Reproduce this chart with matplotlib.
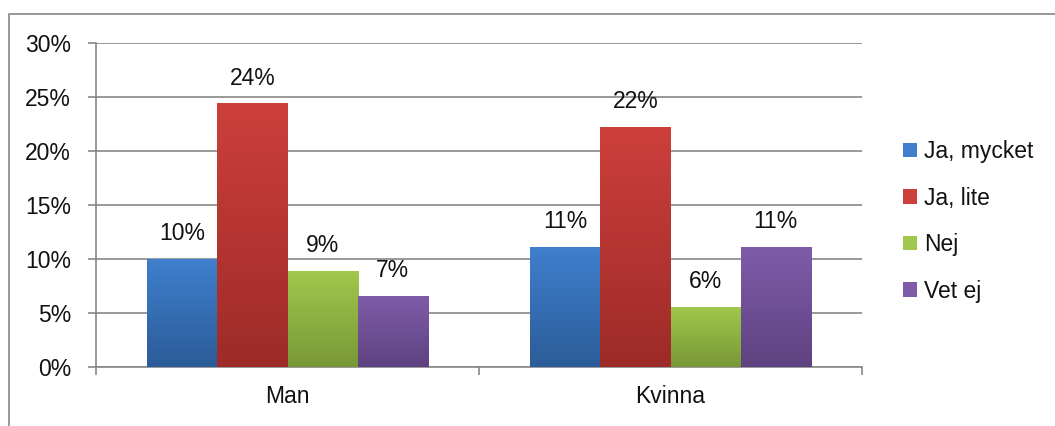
import numpy as np
import matplotlib
matplotlib.use("Agg")
import matplotlib.pyplot as plt
from matplotlib.colors import LinearSegmentedColormap
from matplotlib.patches import Patch, Rectangle

plt.rcParams['font.family'] = ['Liberation Sans', 'DejaVu Sans']

# survey answers, percent per group
groups = ['Man', 'Kvinna']
answers = ['Ja, mycket', 'Ja, lite', 'Nej', 'Vet ej']
man = [10.0, 24.4, 8.9, 6.6]
kvinna = [11.1, 22.2, 5.6, 11.1]

# (top colour, bottom colour) for each answer
shades = [('#3f7fcd', '#2c5c99'),
          ('#cd3f3b', '#9d2b28'),
          ('#a1c84c', '#789838'),
          ('#7f5ca9', '#5f4281')]

W, H = 1055, 426
fs = 16.5
fig = plt.figure(figsize=(W / 100, H / 100), dpi=100)
ax = fig.add_axes([96 / W, (H - 367) / H, (862 - 96) / W, (367 - 43) / H])

grey = '#878787'
values = np.array([man, kvinna]).T / 100.0
x = np.arange(len(groups))
bw = 0.183
grad = np.linspace(1, 0, 256).reshape(-1, 1)

for i, name in enumerate(answers):
    pos = x + (i - 1.5) * bw
    bars = ax.bar(pos, values[i], bw, color=shades[i][0], linewidth=0, zorder=3)
    cmap = LinearSegmentedColormap.from_list(name, [shades[i][1], shades[i][0]])
    for b, v in zip(bars, values[i]):
        b.set_facecolor('none')
        im = ax.imshow(grad, cmap=cmap, aspect='auto', zorder=3,
                       extent=[b.get_x(), b.get_x() + bw, 0, v])
        im.set_clip_path(b)
        ax.annotate(f"{v * 100:.0f}%", (b.get_x() + bw / 2, v),
                    xytext=(0, 13.5), textcoords='offset points',
                    ha='center', va='baseline', fontsize=fs, color='#111111')

ax.set_xlim(-0.5, 1.5)
ax.set_ylim(0, 0.30)
ax.set_yticks(np.arange(0, 0.31, 0.05))
ax.set_yticklabels([f"{t}%" for t in range(0, 31, 5)])
ax.set_xticks(x)
ax.set_xticklabels(groups)
ax.set_xticks([-0.5, 0.5, 1.5], minor=True)

ax.tick_params(axis='y', length=6, width=1.2, color=grey, pad=12, labelsize=fs,
               labelcolor='#111111')
ax.tick_params(axis='x', which='major', length=0, pad=13, labelsize=fs,
               labelcolor='#111111')
ax.tick_params(axis='x', which='minor', length=6, width=1.2, color=grey)
ax.yaxis.grid(True, color=grey, linewidth=1.2, zorder=0)
ax.set_axisbelow(True)
for s in ['top', 'right']:
    ax.spines[s].set_visible(False)
for s in ['left', 'bottom']:
    ax.spines[s].set_color(grey)
    ax.spines[s].set_linewidth(1.2)

handles = [Patch(facecolor=shades[i][0], edgecolor='none') for i in range(len(answers))]
fig.legend(handles, answers, loc='upper left', bbox_to_anchor=(903 / W, (H - 140) / H),
           frameon=False, fontsize=fs, handlelength=0.6, handleheight=0.6,
           handletextpad=0.3, labelspacing=1.03, borderpad=0, borderaxespad=0,
           labelcolor='#111111')

# chart frame
fig.patches.append(Rectangle((9 / W, -0.1), 1.2, (H - 14) / H + 0.1,
                             transform=fig.transFigure, fill=False,
                             edgecolor=grey, linewidth=1.2))

fig.savefig('out.png', dpi=100)
